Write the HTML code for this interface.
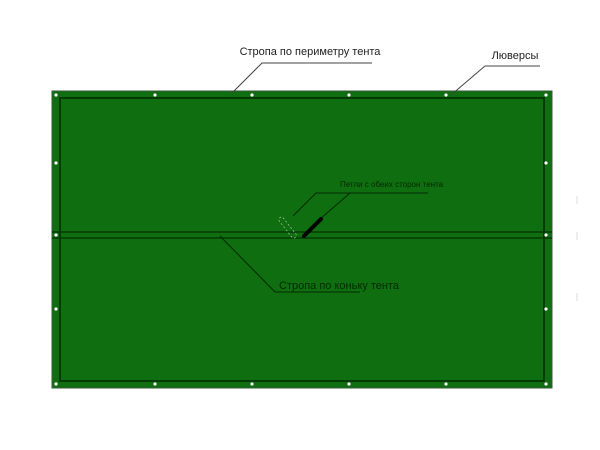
<!DOCTYPE html>
<html><head><meta charset="utf-8"><style>
html,body{margin:0;padding:0;background:#fff;width:600px;height:450px;overflow:hidden}
svg{display:block}
text{font-family:"Liberation Sans",sans-serif}
</style></head><body>
<svg width="600" height="450" viewBox="0 0 600 450">
<rect x="52" y="91" width="500" height="297" fill="#0f6e0f" stroke="#3a5a3a" stroke-width="1"/>
<rect x="60" y="98" width="484" height="283" fill="none" stroke="#053a05" stroke-width="2"/>
<line x1="52" y1="232" x2="552" y2="232" stroke="#053a05" stroke-width="1.5"/>
<line x1="52" y1="238" x2="552" y2="238" stroke="#053a05" stroke-width="1.5"/>
<g fill="#fff">
<circle cx="56" cy="95" r="1.6"/><circle cx="155" cy="95" r="1.6"/><circle cx="252" cy="95" r="1.6"/><circle cx="349" cy="95" r="1.6"/><circle cx="446" cy="95" r="1.6"/><circle cx="546" cy="95" r="1.6"/>
<circle cx="56" cy="384" r="1.6"/><circle cx="155" cy="384" r="1.6"/><circle cx="252" cy="384" r="1.6"/><circle cx="349" cy="384" r="1.6"/><circle cx="446" cy="384" r="1.6"/><circle cx="546" cy="384" r="1.6"/>
<circle cx="56" cy="163" r="1.6"/><circle cx="56" cy="235" r="1.6"/><circle cx="56" cy="309" r="1.6"/>
<circle cx="546" cy="163" r="1.6"/><circle cx="546" cy="235" r="1.6"/><circle cx="546" cy="309" r="1.6"/>
</g>
<g stroke="#ddd" stroke-width="1"><line x1="577" y1="196" x2="577" y2="204"/><line x1="577" y1="232" x2="577" y2="240"/><line x1="577" y1="293" x2="577" y2="301"/></g>
<g stroke="#444" stroke-width="1" fill="none">
<polyline points="372,63 262,63 232,93"/>
<polyline points="540,66 485,66 451,95"/>
</g>
<text x="310" y="55" font-size="11" text-anchor="middle" fill="#222">Стропа по периметру тента</text>
<text x="515" y="59" font-size="11" text-anchor="middle" fill="#222">Люверсы</text>
<g stroke="#042a04" stroke-width="1" fill="none">
<polyline points="428,193 316,193 293,216"/>
<line x1="350" y1="193" x2="319" y2="220"/>
<polyline points="220,236 275,292 360,292"/>
</g>
<line x1="304" y1="236" x2="321" y2="219" stroke="#000" stroke-width="4" stroke-linecap="round"/>
<rect x="284" y="213" width="5" height="25" rx="2" transform="rotate(-38 290 225)" fill="none" stroke="#9ab89a" stroke-width="0.8" stroke-dasharray="2,2"/>
<text x="340" y="187" font-size="8" fill="#042a04">Петли с обеих сторон тента</text>
<text x="279" y="289" font-size="11" fill="#042a04">Стропа по коньку тента</text>
</svg>
</body></html>
